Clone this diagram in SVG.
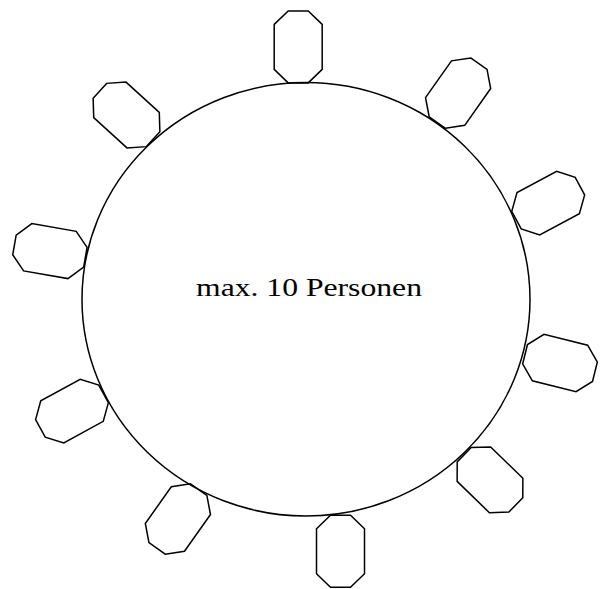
<svg xmlns="http://www.w3.org/2000/svg" xmlns:xlink="http://www.w3.org/1999/xlink" width="610" height="589" viewBox="0 0 610 589">
<style>
.ln{fill:none;stroke:#000;stroke-width:1.5;stroke-linejoin:miter}
.lbl{font-family:"Liberation Serif","Times New Roman",serif;font-size:25px;fill:#000}
</style>
<defs>
<polygon id="chair" points="-10,-36 10,-36 24,-22.5 24,22.5 10,36 -10,36 -24,22.5 -24,-22.5"/>
</defs>
<rect width="610" height="589" fill="#fff"/>
<g id="table">
<ellipse class="ln" cx="306" cy="299.3" rx="224" ry="216.7"/>
<text class="lbl" x="196" y="296" textLength="226" lengthAdjust="spacingAndGlyphs">max. 10 Personen</text>
</g>
<g id="chair1"><use xlink:href="#chair" class="ln" transform="translate(298.2,46.9)"/></g>
<g id="chair2"><use xlink:href="#chair" class="ln" transform="translate(458.1,93.1) rotate(35.2)"/></g>
<g id="chair3"><use xlink:href="#chair" class="ln" transform="translate(548.2,203.1) rotate(61.8)"/></g>
<g id="chair4"><use xlink:href="#chair" class="ln" transform="translate(560,363) rotate(104)"/></g>
<g id="chair5"><use xlink:href="#chair" class="ln" transform="translate(490,479.8) rotate(134.2)"/></g>
<g id="chair6"><use xlink:href="#chair" class="ln" transform="translate(340.5,551.2)"/></g>
<g id="chair7"><use xlink:href="#chair" class="ln" transform="translate(177.9,519) rotate(35.3)"/></g>
<g id="chair8"><use xlink:href="#chair" class="ln" transform="translate(72,411.1) rotate(61.3)"/></g>
<g id="chair9"><use xlink:href="#chair" class="ln" transform="translate(49.9,251.1) rotate(99.9)"/></g>
<g id="chair10"><use xlink:href="#chair" class="ln" transform="translate(126.5,115) rotate(132.3)"/></g>
</svg>
